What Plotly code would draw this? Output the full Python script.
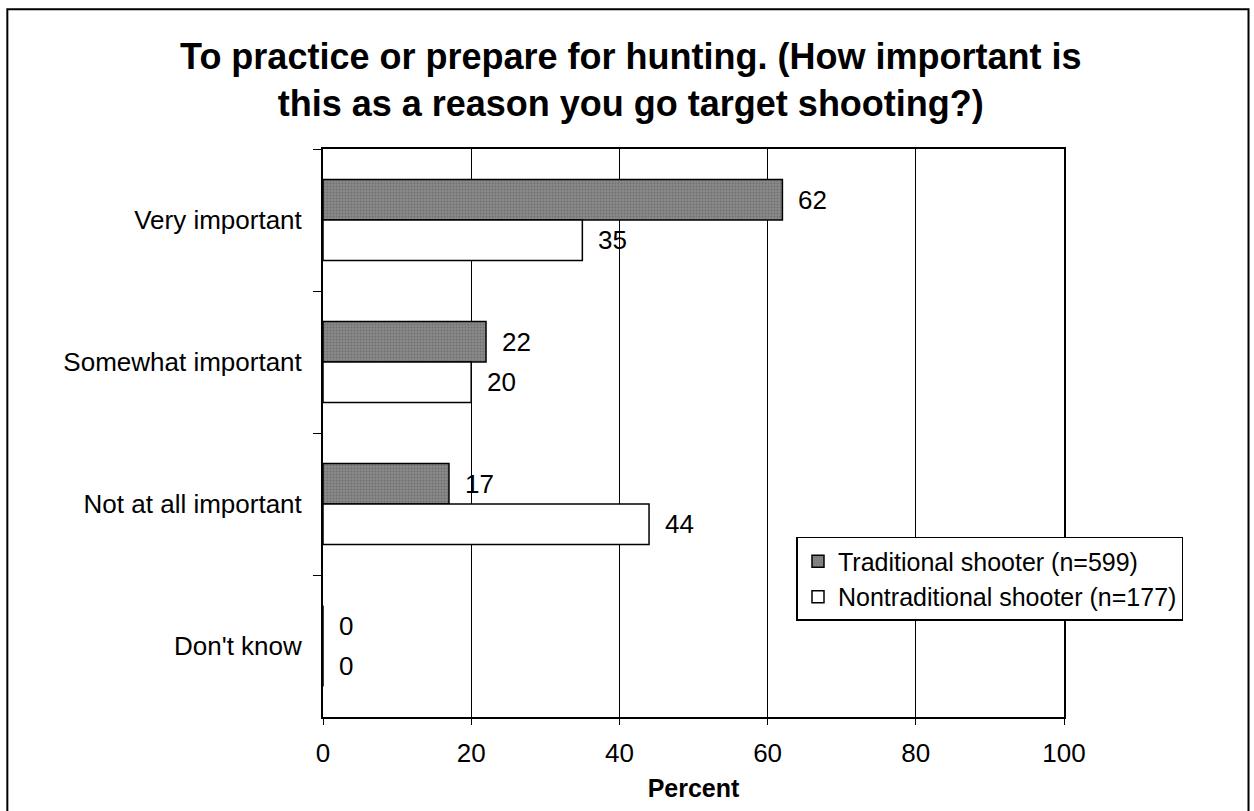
import plotly.graph_objects as go

categories = ["Very important", "Somewhat important", "Not at all important", "Don't know"]
traditional = [62, 22, 17, 0]
nontraditional = [35, 20, 44, 0]
series_names = ["Traditional shooter (n=599)", "Nontraditional shooter (n=177)"]
x_ticks = [0, 20, 40, 60, 80, 100]

FONT = "Arial, Liberation Sans, sans-serif"

fig = go.Figure()
fig.add_trace(go.Bar(
    y=categories, x=traditional, orientation="h", name=series_names[0],
    marker=dict(color="#7c7c7c", line=dict(color="black", width=1.5),
                pattern=dict(shape=".", fgcolor="#555555", bgcolor="#8a8a8a", size=3, solidity=0.4)),
))
fig.add_trace(go.Bar(
    y=categories, x=nontraditional, orientation="h", name=series_names[1],
    marker=dict(color="white", line=dict(color="black", width=1.5)),
))

annotations = []
for cat, v in zip(categories, traditional):
    annotations.append(dict(x=v, y=cat, xref="x", yref="y", text=str(v), showarrow=False,
                            xanchor="left", xshift=14, yshift=20, font=dict(size=26, color="black", family=FONT)))
for cat, v in zip(categories, nontraditional):
    annotations.append(dict(x=v, y=cat, xref="x", yref="y", text=str(v), showarrow=False,
                            xanchor="left", xshift=14, yshift=-20, font=dict(size=26, color="black", family=FONT)))

fig.update_layout(
    width=1254, height=811,
    margin=dict(l=323, r=190, t=149, b=94),
    paper_bgcolor="white", plot_bgcolor="white",
    barmode="group", bargap=0.43, bargroupgap=0,
    font=dict(family=FONT, color="black"),
    title=dict(text="<b>To practice or prepare for hunting. (How important is<br>this as a reason you go target shooting?)</b>",
               x=0.503, xref="container", xanchor="center", y=0.915, yref="container", yanchor="middle",
               font=dict(size=36, family=FONT, color="black")),
    xaxis=dict(range=[0, 100], tickvals=x_ticks, showgrid=True, gridcolor="black", gridwidth=1,
               showline=True, linecolor="black", linewidth=2, mirror=True,
               ticks="outside", ticklen=6, tickcolor="black", zeroline=False,
               tickfont=dict(size=26, family=FONT), ticklabelstandoff=6,
               title=dict(text="<b>Percent</b>", font=dict(size=25, family=FONT), standoff=12)),
    yaxis=dict(autorange="reversed", showline=True, linecolor="black", linewidth=2, mirror=True,
               ticks="outside", ticklen=8, tickcolor="black", tickson="boundaries",
               tickfont=dict(size=26, family=FONT), ticklabelstandoff=14, showgrid=False),
    legend=dict(x=0.639, y=0.317, xanchor="left", yanchor="top", bordercolor="black", borderwidth=1.5,
                bgcolor="white", font=dict(size=25, family=FONT), traceorder="normal",
                itemwidth=30, tracegroupgap=0),
    annotations=annotations,
    shapes=[dict(type="rect", xref="paper", yref="paper", x0=-0.426, x1=1.249, y0=-0.2, y1=1.246,
                 line=dict(color="black", width=2), fillcolor="rgba(0,0,0,0)", layer="below")],
)

fig.write_html("out.html", config={"displayModeBar": False},
               post_script="document.body.style.margin='0';")
